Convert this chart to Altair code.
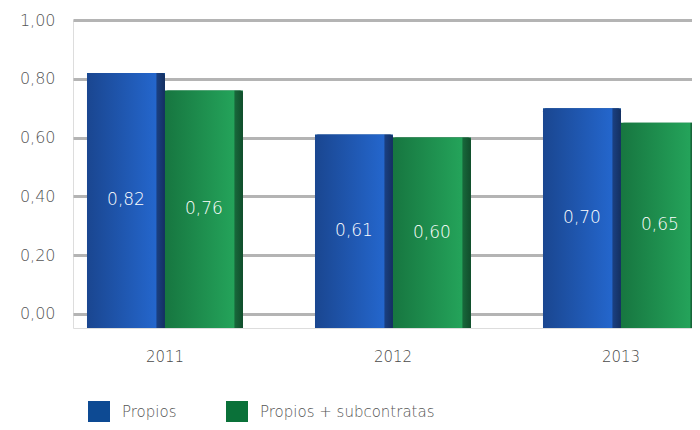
import altair as alt
import pandas as pd

years = ["2011", "2012", "2013"]
series = ["Propios", "Propios + subcontratas"]
propios = [0.82, 0.61, 0.70]
subcontratas = [0.76, 0.60, 0.65]
base = -0.048  # 3D base of the bars, below zero
y_ticks = [0.0, 0.2, 0.4, 0.6, 0.8, 1.0]

rows = []
for i, yr in enumerate(years):
    rows.append({"year": yr, "serie": series[0], "value": propios[i]})
    rows.append({"year": yr, "serie": series[1], "value": subcontratas[i]})
df = pd.DataFrame(rows)
df["base"] = base
df["mid"] = (df["value"] + df["base"]) / 2
df["label"] = df["value"].map(lambda v: f"{v:.2f}".replace(".", ","))

FONT = "DejaVu Sans"
TXT = "#555555"
W = 200

x_scale = alt.Scale(range=[0, 627], paddingInner=0.316, paddingOuter=0.033, align=0.93)
x_enc = alt.X("year:N", title=None, sort=years, scale=x_scale,
              axis=alt.Axis(labelFont=FONT, labelFontSize=15, labelColor="#4a4a4a", labelFontWeight=W,
                            ticks=False, domain=False, labelPadding=21, labelAngle=0))
xoff = alt.XOffset("serie:N", sort=series, scale=alt.Scale(paddingInner=0, paddingOuter=0))
y_scale = alt.Scale(domain=[base, 1.0], nice=False, zero=False)

basebars = alt.Chart(df).mark_bar().encode(
    x=x_enc,
    xOffset=xoff,
    y=alt.Y("value:Q", title=None, scale=y_scale,
            axis=alt.Axis(values=y_ticks, labelExpr="replace(format(datum.value, '.2f'), '.', ',')",
                          labelFont=FONT, labelFontSize=16, labelColor=TXT, labelFontWeight=W,
                          ticks=False, domain=False, labelPadding=18,
                          grid=True, gridColor="#b4b4b4", gridWidth=3)),
    y2="base:Q",
    color=alt.Color("serie:N", sort=series,
                    scale=alt.Scale(domain=series, range=["#0d4a93", "#0a7139"]),
                    legend=alt.Legend(title=None, orient="none", direction="horizontal",
                                      legendX=15, legendY=381, symbolType="square",
                                      symbolSize=484, symbolStrokeWidth=0,
                                      labelFont=FONT, labelFontSize=15, labelColor=TXT,
                                      labelFontWeight=W, labelLimit=400,
                                      labelOffset=12, columnPadding=49)),
)

blue_grad = alt.Gradient(gradient="linear", x1=0, x2=1, y1=0, y2=0, stops=[
    alt.GradientStop(offset=0, color="#1a4690"),
    alt.GradientStop(offset=0.88, color="#2466cc"),
    alt.GradientStop(offset=0.9, color="#1a3f80"),
    alt.GradientStop(offset=1, color="#142f60"),
])
green_grad = alt.Gradient(gradient="linear", x1=0, x2=1, y1=0, y2=0, stops=[
    alt.GradientStop(offset=0, color="#177640"),
    alt.GradientStop(offset=0.88, color="#24a35a"),
    alt.GradientStop(offset=0.9, color="#17673a"),
    alt.GradientStop(offset=1, color="#114d2b"),
])

def grad_layer(name, grad):
    return alt.Chart(df).transform_filter(alt.datum.serie == name).mark_bar(
        fill=grad, cornerRadiusTopLeft=3, cornerRadiusTopRight=3
    ).encode(x=alt.X("year:N", sort=years), xOffset=xoff,
             y=alt.Y("value:Q", scale=y_scale), y2="base:Q")

labels = alt.Chart(df).mark_text(color="white", font=FONT, fontSize=17, fontWeight=W).encode(
    x=alt.X("year:N", sort=years), xOffset=xoff,
    y=alt.Y("mid:Q", scale=y_scale),
    text="label:N",
)

chart = alt.layer(basebars, grad_layer(series[0], blue_grad), grad_layer(series[1], green_grad), labels).properties(
    width=619, height=308,
    autosize=alt.AutoSizeParams(type="none"),
    padding={"left": 65, "top": 12, "right": 0, "bottom": 94},
).configure_view(strokeWidth=0, stroke="transparent").configure(background="white")

chart.save("out.html", embed_options={"renderer": "svg", "actions": False})
